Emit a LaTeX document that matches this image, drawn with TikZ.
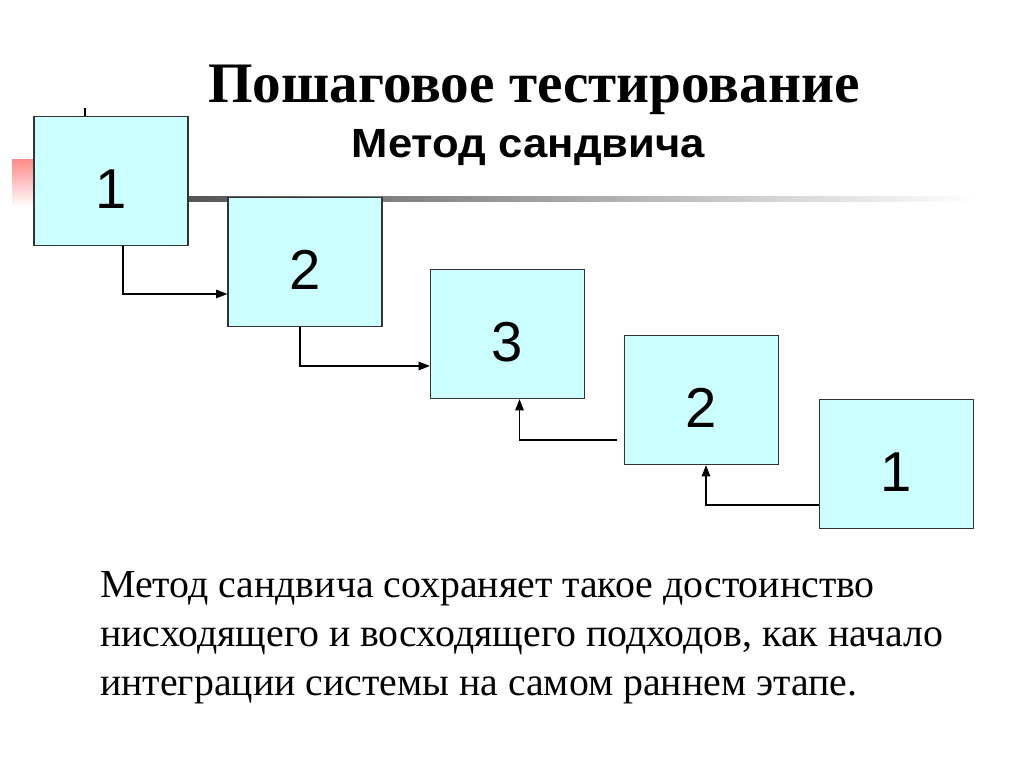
\documentclass[tikz,border=0pt]{standalone}
\usepackage{fontspec}
\setmainfont{Liberation Serif}
\setsansfont{Liberation Sans}
\usetikzlibrary{arrows.meta,calc}
\definecolor{boxcyan}{HTML}{CCFFFF}

\begin{document}
\begin{tikzpicture}[x=0.025cm, y=-0.025cm,
  box/.style={draw=black!80, fill=boxcyan, line width=0.8pt, minimum width=3.85cm, minimum height=3.225cm,
    inner sep=0pt, text height=38.6pt, text depth=0pt, font=\sffamily\fontsize{40}{48}\selectfont},
  arr/.style={-{Triangle[length=2.8mm, width=2.1mm]}, line width=0.9pt}]
\useasboundingbox (0,0) rectangle (1024,767);
% slide background
\shade[top color=red!45, bottom color=white] (12,160) rectangle (60,207);
\shade[left color=black!70, right color=white] (150,197) rectangle (975,202);
\draw[line width=2pt] (85,108) -- (85,117);
% titles
\node[font=\bfseries\fontsize{40.7}{48}\selectfont, anchor=base] (title) at (534,103) {Пошаговое тестирование};
\node[font=\sffamily\bfseries\fontsize{29}{34}\selectfont, anchor=base] (sub) at (528.5,158)
  {\scalebox{1.07}[1]{Метод сандвича}};
% levels
\node[box] (b1) at (111,181) {1};
\node[box] (b2) at (305,262) {2};
\node[box] (b3) at (507.5,334) {3};
\node[box] (b4) at (701.5,400) {2};
\node[box] (b5) at (896.5,464) {1};
\draw[arr] ($(b1.south)+(12,0)$) |- ($(b2.west)+(0,32)$);
\draw[arr] ($(b2.south)+(-5,0)$) |- ($(b3.west)+(0,32)$);
\draw[arr] ($(b4.west)+(-7,40)$) -| ($(b3.south)+(12,0)$);
\draw[arr] ($(b5.west)+(0,41)$) -| ($(b4.south)+(4.5,0)$);
% text
\node[font=\fontsize{28.3}{34.5}\selectfont, align=left, anchor=base west, inner sep=0pt] (note) at (100,695)
  {Метод сандвича сохраняет такое достоинство\\нисходящего и восходящего подходов, как начало\\интеграции системы на самом раннем этапе.};
\end{tikzpicture}
\end{document}
